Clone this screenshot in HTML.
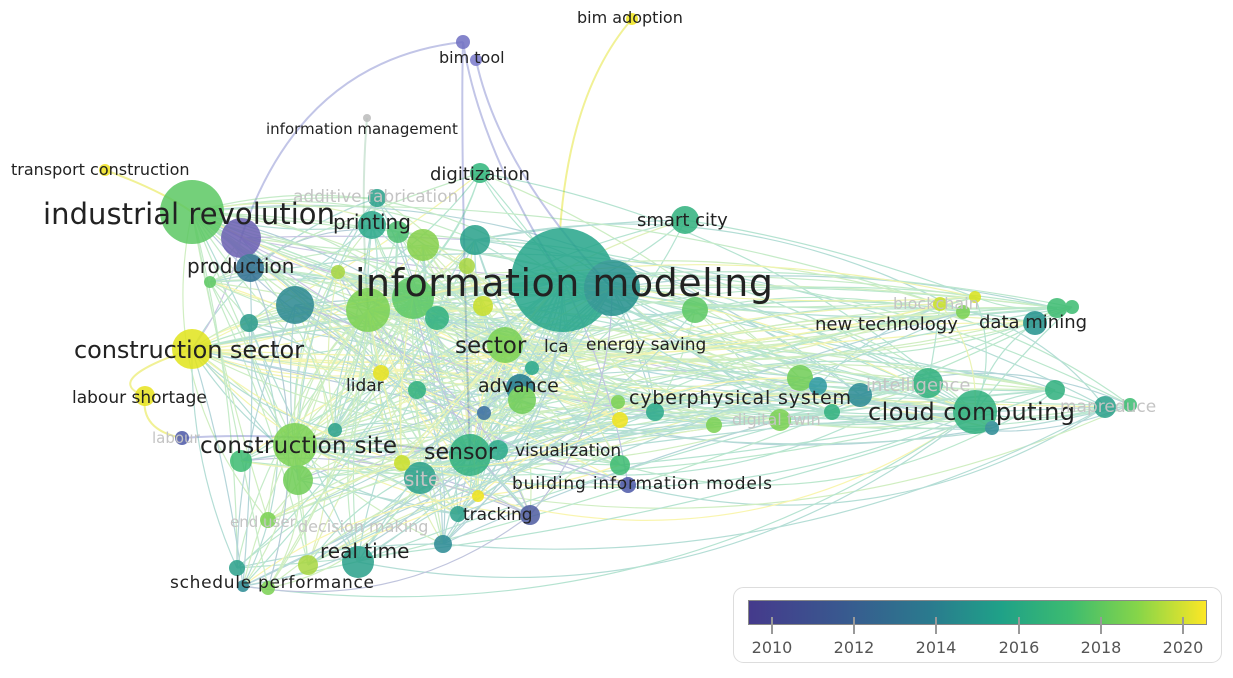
<!DOCTYPE html>
<html><head><meta charset="utf-8"><style>
html,body{margin:0;padding:0;background:#fff;}
svg{display:block;}
text{font-family:"DejaVu Sans","Liberation Sans",sans-serif;fill:#222;}
.g{fill:#c4c4c4;}
</style></head><body>
<svg id="s" width="1233" height="678" viewBox="0 0 1233 678" xmlns="http://www.w3.org/2000/svg">
<defs>
<linearGradient id="vir" x1="0" x2="1">
<stop offset="0" stop-color="#453a8c"/><stop offset="0.2" stop-color="#39588f"/>
<stop offset="0.4" stop-color="#2a7b8e"/><stop offset="0.55" stop-color="#1fa188"/>
<stop offset="0.7" stop-color="#3cbb70"/><stop offset="0.85" stop-color="#86d549"/>
<stop offset="1" stop-color="#fde725"/></linearGradient>
</defs>
<g fill="none" stroke-width="2" opacity="0.6">
<path d="M632 19 Q570 90 560 230" stroke="#e8e850"/>
<path d="M105 170 Q160 190 192 212" stroke="#e8e850"/>
<path d="M145 396 Q100 380 192 349" stroke="#e8e850"/>
<path d="M145 396 Q140 430 182 438" stroke="#e8e850"/>
<path d="M463 42 Q300 60 241 238" stroke="#9aa0d8"/>
<path d="M463 42 Q480 150 563 280" stroke="#9aa0d8"/>
<path d="M476 60 Q500 170 612 288" stroke="#9aa0d8"/>
<path d="M463 42 Q460 150 470 455" stroke="#9aa0d8"/>
<path d="M367 118 Q360 200 368 310" stroke="#b5d8c0"/>
<path d="M182 438 Q300 430 470 455" stroke="#9aa0d8"/>
</g>
<g id="edges" fill="none" stroke-width="1.2" opacity="0.35"></g>
<g id="nodes" opacity="0.85">
<circle cx="632" cy="19" r="6" fill="#f0e51c"/>
<circle cx="463" cy="42" r="7" fill="#6f6fc2"/>
<circle cx="476" cy="60" r="6" fill="#7a7acc"/>
<circle cx="367" cy="118" r="4" fill="#bbb"/>
<circle cx="105" cy="170" r="6" fill="#eee21e"/>
<circle cx="480" cy="173" r="10" fill="#2fb67b"/>
<circle cx="377" cy="198" r="9" fill="#2aa08a"/>
<circle cx="685" cy="220" r="14" fill="#2fb07d"/>
<circle cx="192" cy="212" r="32" fill="#5cc863"/>
<circle cx="241" cy="238" r="20" fill="#6a5fb2"/>
<circle cx="372" cy="225" r="14" fill="#2aa98a"/>
<circle cx="398" cy="232" r="11" fill="#4cbf70"/>
<circle cx="423" cy="245" r="16" fill="#85d04b"/>
<circle cx="475" cy="240" r="15" fill="#27a08a"/>
<circle cx="250" cy="268" r="14" fill="#2e6e90"/>
<circle cx="210" cy="282" r="6" fill="#5cc863"/>
<circle cx="338" cy="272" r="7" fill="#a7d640"/>
<circle cx="295" cy="305" r="19" fill="#2a8890"/>
<circle cx="249" cy="323" r="9" fill="#2a9a8a"/>
<circle cx="368" cy="310" r="22" fill="#7ad151"/>
<circle cx="413" cy="298" r="21" fill="#5cc863"/>
<circle cx="437" cy="318" r="12" fill="#2fb07d"/>
<circle cx="483" cy="306" r="10" fill="#c8df2a"/>
<circle cx="467" cy="266" r="8" fill="#a7d640"/>
<circle cx="563" cy="280" r="52" fill="#25a58a"/>
<circle cx="612" cy="288" r="28" fill="#23908c"/>
<circle cx="695" cy="310" r="13" fill="#5cc863"/>
<circle cx="192" cy="349" r="20" fill="#e1e41c"/>
<circle cx="145" cy="396" r="10" fill="#e8e31e"/>
<circle cx="182" cy="438" r="7" fill="#4c58a8"/>
<circle cx="505" cy="345" r="18" fill="#7ad151"/>
<circle cx="532" cy="368" r="7" fill="#2aa98a"/>
<circle cx="381" cy="373" r="8" fill="#e8e31e"/>
<circle cx="417" cy="390" r="9" fill="#2fb07d"/>
<circle cx="520" cy="388" r="14" fill="#227b8e"/>
<circle cx="522" cy="400" r="14" fill="#6fcd55"/>
<circle cx="484" cy="413" r="7" fill="#3a6ea0"/>
<circle cx="800" cy="378" r="13" fill="#6fcd55"/>
<circle cx="818" cy="386" r="9" fill="#2a98a0"/>
<circle cx="860" cy="395" r="12" fill="#2a8a94"/>
<circle cx="928" cy="383" r="15" fill="#2fb07d"/>
<circle cx="975" cy="412" r="22" fill="#2fb07d"/>
<circle cx="992" cy="428" r="7" fill="#2a8a94"/>
<circle cx="1055" cy="390" r="10" fill="#2fb07d"/>
<circle cx="1105" cy="407" r="11" fill="#2aa08a"/>
<circle cx="1130" cy="405" r="7" fill="#3cbb70"/>
<circle cx="1035" cy="323" r="12" fill="#22918c"/>
<circle cx="1057" cy="308" r="10" fill="#3cbb70"/>
<circle cx="1072" cy="307" r="7" fill="#3cbb70"/>
<circle cx="940" cy="304" r="7" fill="#c8df2a"/>
<circle cx="963" cy="312" r="7" fill="#7ad151"/>
<circle cx="975" cy="297" r="6" fill="#d8e219"/>
<circle cx="620" cy="420" r="8" fill="#f0e51c"/>
<circle cx="655" cy="412" r="9" fill="#2aa98a"/>
<circle cx="618" cy="402" r="7" fill="#7ad151"/>
<circle cx="714" cy="425" r="8" fill="#7ad151"/>
<circle cx="780" cy="420" r="11" fill="#7ad151"/>
<circle cx="832" cy="412" r="8" fill="#2fb07d"/>
<circle cx="295" cy="445" r="22" fill="#7ad151"/>
<circle cx="298" cy="480" r="15" fill="#6fcd55"/>
<circle cx="241" cy="461" r="11" fill="#3cbb70"/>
<circle cx="335" cy="430" r="7" fill="#2aa08a"/>
<circle cx="470" cy="455" r="21" fill="#2fb07d"/>
<circle cx="420" cy="478" r="16" fill="#2aa08a"/>
<circle cx="498" cy="450" r="10" fill="#2aa98a"/>
<circle cx="620" cy="465" r="10" fill="#3cbb70"/>
<circle cx="628" cy="485" r="8" fill="#4c58a8"/>
<circle cx="478" cy="496" r="6" fill="#f0e51c"/>
<circle cx="530" cy="515" r="10" fill="#4c5aa0"/>
<circle cx="458" cy="514" r="8" fill="#2aa08a"/>
<circle cx="443" cy="544" r="9" fill="#2a8a94"/>
<circle cx="358" cy="562" r="16" fill="#2aa08a"/>
<circle cx="308" cy="565" r="10" fill="#a7d640"/>
<circle cx="268" cy="520" r="8" fill="#7ad151"/>
<circle cx="237" cy="568" r="8" fill="#2aa08a"/>
<circle cx="243" cy="586" r="6" fill="#2a8a94"/>
<circle cx="268" cy="588" r="7" fill="#7ad151"/>
<circle cx="402" cy="463" r="8" fill="#c8df2a"/>
</g>
<g>
<text x="577" y="23" font-size="16">bim adoption</text>
<text x="439" y="63" font-size="16">bim tool</text>
<text x="266" y="134" font-size="15">information management</text>
<text x="11" y="175" font-size="16">transport construction</text>
<text class="g" x="293" y="202" font-size="17">additive fabrication</text>
<text x="430" y="180" font-size="18">digitization</text>
<text x="43" y="224" font-size="29" textLength="292">industrial revolution</text>
<text x="333" y="229" font-size="20">printing</text>
<text x="637" y="226" font-size="18">smart city</text>
<text x="187" y="273" font-size="20">production</text>
<text x="355" y="296" font-size="38" textLength="418">information modeling</text>
<text class="g" x="893" y="309" font-size="16">blockchain</text>
<text x="815" y="330" font-size="18">new technology</text>
<text x="979" y="328" font-size="18">data mining</text>
<text x="74" y="358" font-size="24" textLength="230">construction sector</text>
<text x="455" y="353" font-size="23">sector</text>
<text x="544" y="352" font-size="17">lca</text>
<text x="586" y="350" font-size="17">energy saving</text>
<text x="346" y="391" font-size="17">lidar</text>
<text x="478" y="392" font-size="19">advance</text>
<text class="g" x="866" y="391" font-size="18">intelligence</text>
<text x="72" y="403" font-size="17">labour shortage</text>
<text x="629" y="404" font-size="19" textLength="222">cyberphysical system</text>
<text x="868" y="420" font-size="24" textLength="207">cloud computing</text>
<text class="g" x="1060" y="412" font-size="17">mapreduce</text>
<text class="g" x="732" y="425" font-size="16">digital twin</text>
<text class="g" x="152" y="443" font-size="15">labour</text>
<text x="200" y="453" font-size="23" textLength="197">construction site</text>
<text x="424" y="459" font-size="22">sensor</text>
<text x="515" y="456" font-size="17">visualization</text>
<text class="g" x="404" y="486" font-size="20">site</text>
<text x="512" y="489" font-size="17" textLength="260">building information models</text>
<text x="463" y="520" font-size="17">tracking</text>
<text class="g" x="230" y="527" font-size="15">end user</text>
<text class="g" x="298" y="532" font-size="16">decision making</text>
<text x="320" y="558" font-size="20">real time</text>
<text x="170" y="588" font-size="17" textLength="204">schedule performance</text>
</g>
<rect x="733.5" y="587.5" width="488" height="75" rx="10" fill="#fff" stroke="#ddd"/>
<rect x="748.5" y="600.5" width="458" height="24" fill="url(#vir)" stroke="#888"/>
<g stroke="#999" stroke-width="2">
<line x1="772" y1="617" x2="772" y2="634"/><line x1="854" y1="617" x2="854" y2="634"/>
<line x1="936" y1="617" x2="936" y2="634"/><line x1="1019" y1="617" x2="1019" y2="634"/>
<line x1="1101" y1="617" x2="1101" y2="634"/><line x1="1183" y1="617" x2="1183" y2="634"/>
</g>
<g font-size="16" text-anchor="middle">
<text x="772" y="653" style="fill:#555">2010</text><text x="854" y="653" style="fill:#555">2012</text>
<text x="936" y="653" style="fill:#555">2014</text><text x="1019" y="653" style="fill:#555">2016</text>
<text x="1101" y="653" style="fill:#555">2018</text><text x="1183" y="653" style="fill:#555">2020</text>
</g>
</svg>
<script>
(function(){
var E=document.getElementById('edges');
var cs=document.querySelectorAll('#nodes circle');
var pts=[];for(var i=0;i<cs.length;i++)pts.push([+cs[i].getAttribute('cx'),+cs[i].getAttribute('cy'),cs[i].getAttribute('fill')]);
var seed=11;function r(){seed=(seed*16807)%2147483647;return seed/2147483647;}
var hubs=[24,25,8,58,62,41,27,30,19,20];
function lighten(c){return c;}
var s='';
function add(a,b){var dx=b[0]-a[0],dy=b[1]-a[1];var k=(r()-0.5)*0.5;
var mx=(a[0]+b[0])/2-dy*k,my=(a[1]+b[1])/2+dx*k;
var col=r()<0.5?a[2]:b[2];
s+='<path d="M'+a[0]+' '+a[1]+'Q'+mx.toFixed(1)+' '+my.toFixed(1)+' '+b[0]+' '+b[1]+'" stroke="'+col+'"/>';}
for(var i=5;i<pts.length;i++){
 if(i==28||i==29)continue;
 for(var j=0;j<hubs.length;j++){if(hubs[j]!=i&&r()<0.4)add(pts[i],pts[hubs[j]]);}
 for(var t=0;t<6;t++){var j=Math.floor(r()*pts.length);if(j<5||j==28||j==29)continue;
  var d=Math.hypot(pts[i][0]-pts[j][0],pts[i][1]-pts[j][1]);if(d<350||r()<0.3)add(pts[i],pts[j]);}
}
E.innerHTML=s;
})();
</script>
</body></html>
